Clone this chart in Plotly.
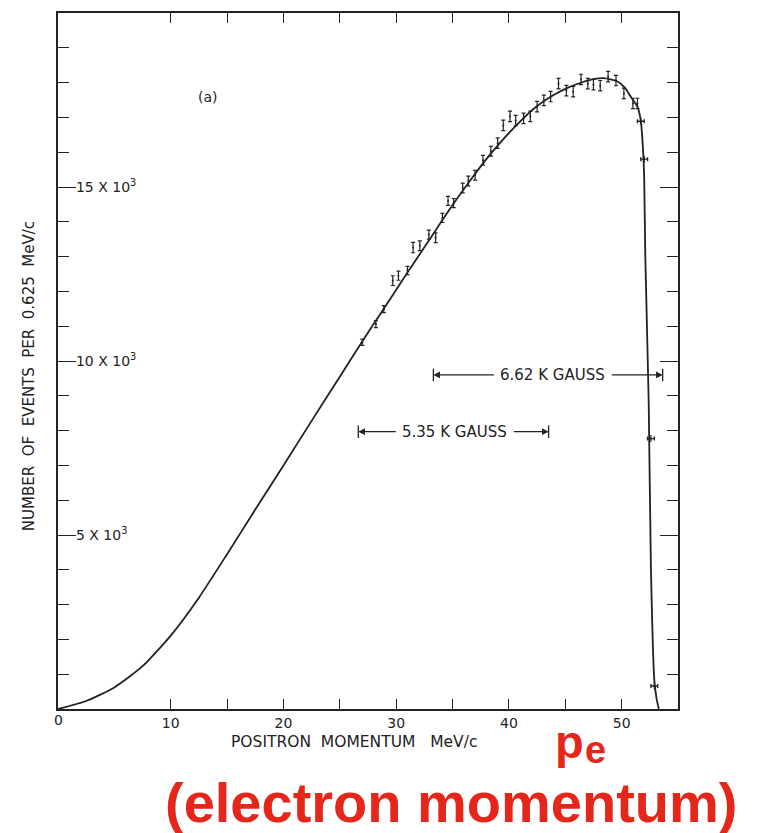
import plotly.graph_objects as go

# ---- data ----
curve_x = [0, 2.5, 5, 7.5, 10, 12.5, 15, 17.5, 20, 22.5, 25, 26.55, 28, 29, 31, 33, 35,
           36.6, 38, 39.25, 40.5, 42.2, 44, 45.2, 46.5, 47.5, 48.4, 49.6, 50.3, 50.8,
           51.4, 51.7, 51.9, 52.0, 52.1, 52.4, 52.6, 52.9, 53.1, 53.3]
curve_y = [0, 230, 620, 1230, 2110, 3200, 4450, 5730, 7000, 8280, 9550, 10340, 11060,
           11550, 12540, 13510, 14480, 15200, 15800, 16280, 16720, 17250, 17650, 17850,
           18010, 18100, 18130, 18040, 17850, 17600, 17310, 16910, 16060, 15260, 13000,
           8830, 4000, 830, 300, 0]

pts_x = [27.0, 28.2, 28.9, 29.7, 30.2, 31.0, 31.5, 32.1, 32.9, 33.5, 34.1, 34.6, 35.1,
         35.9, 36.4, 37.0, 37.7, 38.4, 39.0, 39.5, 40.1, 40.6, 41.3, 41.9, 42.5, 43.1,
         43.7, 44.4, 45.1, 45.7, 46.4, 47.0, 47.5, 48.1, 48.8, 49.5, 50.2, 51.0, 51.4]
pts_y = [10540, 11060, 11490, 12310, 12450, 12600, 13260, 13310, 13630, 13540, 14110,
         14600, 14540, 14970, 15170, 15340, 15770, 16030, 16260, 16770, 17030, 16910,
         16970, 17030, 17310, 17490, 17600, 17970, 17770, 17740, 18090, 17970, 17940,
         17910, 18170, 18060, 17690, 17400, 17400]
pts_err = [90, 100, 100, 140, 130, 120, 150, 140, 130, 140, 130, 130, 130, 140, 140,
           140, 140, 140, 150, 150, 150, 150, 150, 150, 150, 150, 150, 150, 150, 150,
           150, 150, 150, 150, 150, 150, 150, 150, 150]

edge_x = [51.7, 52.0, 52.6, 52.9]
edge_y = [16890, 15800, 7770, 660]

x_tickvals = [0, 5, 10, 15, 20, 25, 30, 35, 40, 45, 50]
x_ticktext = ["0", "", "10", "", "20", "", "30", "", "40", "", "50"]
y_tickvals = [5000, 10000, 15000]
y_ticktext = ["5 X 10<sup>3</sup>", "10 X 10<sup>3</sup>", "15 X 10<sup>3</sup>"]

field_labels = ["6.62 K GAUSS", "5.35 K GAUSS"]
field_ranges = [(33.3, 53.64), (26.64, 43.52)]
field_text_x = [43.9, 35.2]
field_levels = [9600, 7970]

INK = "#222222"
FONT = "DejaVu Sans"
RED = "#e5261a"

fig = go.Figure()
fig.add_trace(go.Scatter(x=curve_x, y=curve_y, mode="lines",
                         line=dict(color=INK, width=1.8, shape="spline", smoothing=0.6),
                         hoverinfo="skip"))
fig.add_trace(go.Scatter(x=pts_x, y=pts_y, mode="markers",
                         marker=dict(size=2, color=INK),
                         error_y=dict(type="data", array=pts_err, color=INK,
                                      thickness=1.2, width=2)))
fig.add_trace(go.Scatter(x=edge_x, y=edge_y, mode="markers",
                         marker=dict(size=2, color=INK),
                         error_x=dict(type="constant", value=0.3, color=INK,
                                      thickness=1.4, width=2),
                         error_y=dict(type="constant", value=100, color=INK,
                                      thickness=1.2, width=0)))

# magnetic field range markers
for lab, (xa, xb), xm, yl in zip(field_labels, field_ranges, field_text_x, field_levels):
    half = 5.1
    for xe, xt in ((xa, xm - half), (xb, xm + half)):
        fig.add_annotation(x=xe, y=yl, ax=xt, ay=yl, xref="x", yref="y",
                           axref="x", ayref="y", text="", showarrow=True,
                           arrowhead=2, arrowsize=1.1, arrowwidth=1.2,
                           arrowcolor=INK)
        fig.add_shape(type="line", x0=xe, x1=xe, y0=yl - 180, y1=yl + 180,
                      xref="x", yref="y", line=dict(color=INK, width=1.3))
    fig.add_annotation(x=xm, y=yl, text=lab, showarrow=False,
                       xanchor="center", yanchor="middle",
                       font=dict(family=FONT, size=15, color=INK))

fig.add_annotation(x=13.3, y=17600, text="(a)", showarrow=False,
                   xanchor="center", yanchor="middle",
                   font=dict(family=FONT, size=14, color=INK))

# "0" tick label (Plotly hides it at the corner)
fig.add_annotation(x=x_tickvals[0], y=-0.016, xref="x", yref="paper",
                   text=x_ticktext[0], showarrow=False,
                   xanchor="center", yanchor="middle",
                   font=dict(family=FONT, size=14, color=INK))

# axis titles
fig.add_annotation(xref="paper", yref="paper", x=-0.047, y=0.478,
                   xanchor="center", yanchor="middle",
                   text="NUMBER  OF  EVENTS  PER  0.625  MeV/c", textangle=-90,
                   showarrow=False, font=dict(family=FONT, size=15, color=INK))
fig.add_annotation(xref="paper", yref="paper", x=0.477, y=-0.047,
                   xanchor="center", yanchor="middle",
                   text="POSITRON  MOMENTUM   MeV/c", showarrow=False,
                   font=dict(family=FONT, size=15.5, color=INK))

# red overlay text
fig.add_annotation(xref="paper", yref="paper", x=0.825, y=-0.047,
                   xanchor="center", yanchor="middle",
                   text="p", showarrow=False,
                   font=dict(family="Liberation Sans", size=47, color=RED, weight="bold"))
fig.add_annotation(xref="paper", yref="paper", x=0.867, y=-0.0587,
                   xanchor="center", yanchor="middle",
                   text="e", showarrow=False,
                   font=dict(family="Liberation Sans", size=38, color=RED, weight="bold"))
fig.add_annotation(xref="paper", yref="paper", x=0.635, y=-0.135,
                   xanchor="center", yanchor="middle",
                   text="(electron momentum)", showarrow=False,
                   font=dict(family="Liberation Sans", size=56, color=RED, weight="bold"))

# page body has an 8px margin: shift the figure so the plot box lands where it should
fig.update_layout(
    width=750, height=825,
    margin=dict(l=50, r=80, t=3, b=124),
    paper_bgcolor="white", plot_bgcolor="white",
    showlegend=False,
    font=dict(family=FONT, color=INK),
)
fig.update_xaxes(range=[0, 55], showgrid=False, zeroline=False,
                 showline=True, linecolor=INK, linewidth=1.5, mirror="ticks",
                 ticks="inside", ticklen=10, tickwidth=1.3, tickcolor=INK,
                 tickvals=x_tickvals, ticktext=x_ticktext,
                 tickfont=dict(family=FONT, size=14, color=INK))
fig.update_yaxes(range=[0, 20000], showgrid=False, zeroline=False,
                 showline=True, linecolor=INK, linewidth=1.5, mirror="ticks",
                 ticks="inside", ticklen=18, tickwidth=1.3, tickcolor=INK,
                 tickvals=y_tickvals, ticktext=y_ticktext,
                 ticklabelposition="inside",
                 tickfont=dict(family=FONT, size=14, color=INK),
                 minor=dict(tickvals=list(range(1000, 20000, 1000)), ticks="inside",
                            ticklen=11, tickwidth=1.3, tickcolor=INK))

fig.write_html("out.html")
